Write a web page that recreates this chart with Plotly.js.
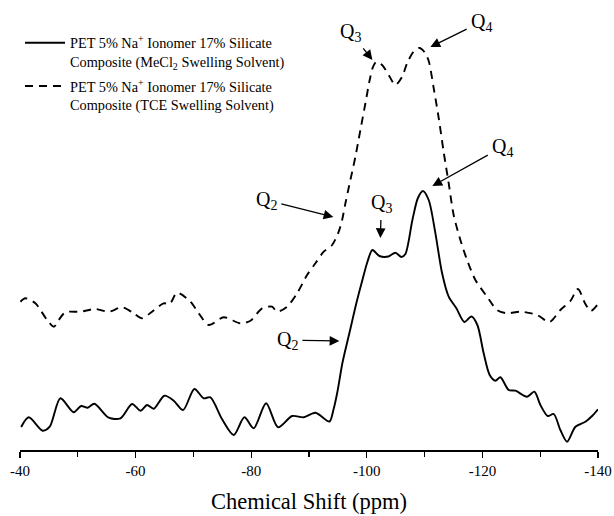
<!DOCTYPE html>
<html>
<head>
<meta charset="utf-8">
<script src="https://cdn.plot.ly/plotly-3.0.1.min.js"></script>
<style>html,body{margin:0;padding:0;background:#fff}</style>
</head>
<body>
<div id="chart" style="width:614px;height:516px"></div>
<script>
// 29Si NMR spectra of PET 5% Na+ ionomer / 17% silicate composites (arbitrary intensity)
const shiftMeCl2 = [-40.2,-41.51,-43.93,-45.14,-46.99,-49.29,-50.57,-51.71,-52.87,-55.35,-57.37,-59.39,-60.83,-61.99,-63.13,-64.98,-66.59,-68.22,-70.17,-71.78,-72.94,-74.97,-76.97,-78.82,-80.43,-82.58,-84.65,-87.08,-89.08,-91.11,-93.53,-94.22,-94.91,-95.78,-96.99,-98.20,-99.24,-100.10,-100.97,-102.18,-103.74,-104.95,-105.99,-106.68,-107.89,-108.84,-109.71,-110.71,-111.87,-113.03,-114.17,-115.50,-116.89,-118.10,-119.13,-120.22,-121.26,-122.25,-123.11,-124.55,-125.71,-127.73,-128.99,-130.03,-131.30,-132.34,-133.49,-134.65,-136.09,-137.82,-138.98,-140.0];
const intensityMeCl2 = [24,33.7,20.3,24.3,52.7,38.7,45,43.3,47.3,33.3,32.7,47,40.3,46,42.3,55.3,50.3,41,62,52.7,53.7,31.7,16,33.7,22.7,47.7,23.7,35,33.7,38.3,29.5,41,59,88,118,148,171,189,201,195,194.5,198.3,194,197,231,253,260,251,217.7,177.7,154.3,142.7,129,134.5,126,97.7,76,70.3,73.7,61,60.3,54.3,59.3,46,35,37,21,9.3,24.3,29.3,35,41.7];

const shiftTCE = [-40.07,-40.93,-42.66,-44.69,-45.87,-46.70,-47.85,-50.45,-53.04,-55.35,-57.66,-59.67,-61.12,-62.85,-64.86,-65.90,-67.18,-69.48,-70.92,-72.65,-75.24,-78.13,-79.86,-81.89,-83.62,-84.48,-86.21,-87.94,-89.67,-91.11,-92.54,-94.00,-95.14,-95.73,-96.30,-97.16,-98.03,-98.89,-99.76,-100.50,-101.09,-101.66,-102.65,-103.79,-104.95,-106.11,-106.97,-108.11,-109.10,-109.97,-110.71,-111.57,-112.44,-113.30,-114.17,-115.03,-116.19,-117.35,-118.79,-120.81,-122.54,-124.27,-126.57,-129.46,-131.59,-133.49,-135.22,-136.52,-137.82,-138.77,-140.0];
const intensityTCE = [149.3,152.7,147.7,131,124.3,131,138.7,139.3,142,139.3,143.7,137.7,132.7,139.3,147.7,147,158.3,149.3,137.7,126,133.7,127.7,130.3,142.7,144.3,139.3,144.3,157.7,176,187.7,199.3,206,219.3,231,247.7,271,294.3,321,347.7,371,384.3,389.3,386,376,366,374.3,387.7,399.3,403,399,390,363,333,299,267.7,236,211,191,171,154.3,141,137.7,139.3,136,129,141,150,162,147,140,147];

const seriesNames = [
  "PET 5% Na<sup>+</sup> Ionomer 17% Silicate<br>Composite (MeCl<sub>2</sub> Swelling Solvent)",
  "PET 5% Na<sup>+</sup> Ionomer 17% Silicate<br>Composite (TCE Swelling Solvent)"
];

const tickValues = [-40, -60, -80, -100, -120, -140];
const tickLabels = ["-40", "-60", "-80", "-100", "-120", "-140"];

// Qn site assignments: arrow tip on the spectrum, label offset in pixels
const peakLabels = ["Q<sub>3</sub>", "Q<sub>4</sub>", "Q<sub>4</sub>", "Q<sub>2</sub>", "Q<sub>3</sub>", "Q<sub>2</sub>"];
const peakShift = [-100.97, -111.00, -111.35, -94.22, -102.35, -95.26];
const peakIntensity = [391, 404, 265, 234, 213, 110];
const labelDx = [-22, 51, 70, -67, 1, -52];
const labelDy = [-28, -25, -39, -17, -35, -1];

const serif = "Liberation Serif";

const traces = [
  {
    x: shiftMeCl2, y: intensityMeCl2, name: seriesNames[0], legendgroup: "mecl2",
    type: "scatter", mode: "lines",
    line: {color: "#000", width: 1.9, shape: "spline", smoothing: 0.8}
  },
  {
    x: shiftTCE, y: intensityTCE, name: seriesNames[1], legendgroup: "tce",
    type: "scatter", mode: "lines",
    line: {color: "#000", width: 1.9, dash: "8px,6px", shape: "spline", smoothing: 0.8}
  }
];

const annotations = peakLabels.map((t, i) => ({
  x: peakShift[i], y: peakIntensity[i], xref: "x", yref: "y",
  text: t, showarrow: true, ax: labelDx[i], ay: labelDy[i],
  arrowhead: 2, arrowsize: 1.5, arrowwidth: 1.3, arrowcolor: "#000",
  startstandoff: 3,
  font: {family: serif, size: 20, color: "#000"}
}));

const layout = {
  width: 614, height: 516,
  margin: {l: 20, r: 16, t: 0, b: 66},
  paper_bgcolor: "#fff", plot_bgcolor: "#fff",
  font: {family: serif, color: "#000"},
  showlegend: true,
  legend: {
    x: 0, y: 0.94, xanchor: "left", yanchor: "top",
    bgcolor: "rgba(0,0,0,0)", borderwidth: 0,
    valign: "top", itemwidth: 40, tracegroupgap: 3,
    font: {family: serif, size: 14.3, color: "#000"}
  },
  xaxis: {
    range: [-40, -140],
    tickmode: "array", tickvals: tickValues, ticktext: tickLabels,
    ticks: "outside", ticklen: 6, tickwidth: 1.3, tickcolor: "#000",
    minor: {dtick: 10, tick0: -40, ticks: "outside", ticklen: 5, tickwidth: 1.3, tickcolor: "#000"},
    showline: true, linecolor: "#000", linewidth: 1.5,
    showgrid: false, zeroline: false,
    tickfont: {family: serif, size: 15, color: "#000"},
    title: {text: "Chemical Shift (ppm)", font: {family: serif, size: 22.5, color: "#000"}, standoff: 15}
  },
  yaxis: {range: [1, 451], visible: false, fixedrange: true},
  annotations: annotations
};

Plotly.newPlot("chart", traces, layout, {staticPlot: true, displayModeBar: false});
</script>
</body>
</html>
